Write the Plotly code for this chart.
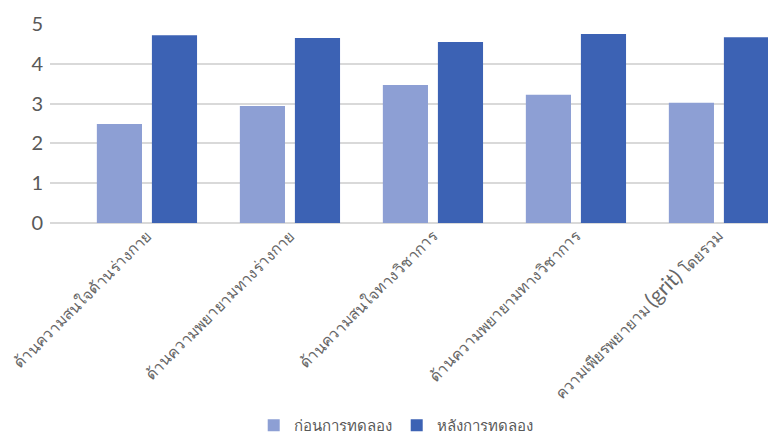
import plotly.graph_objects as go

categories = [
    "ด้านความสนใจด้านร่างกาย",
    "ด้านความพยายามทางร่างกาย",
    "ด้านความสนใจทางวิชาการ",
    "ด้านความพยายามทางวิชาการ",
    "ความเพียรพยายาม <span style=\"font-size:21px\">(grit)</span> โดยรวม",
]
before = [2.49, 2.94, 3.47, 3.22, 3.02]
after = [4.72, 4.65, 4.55, 4.75, 4.67]
series_names = ["ก่อนการทดลอง", "หลังการทดลอง"]
y_ticks = [0, 1, 2, 3, 4, 5]

fig = go.Figure()
fig.add_trace(go.Bar(x=categories, y=before, name=series_names[0],
                     marker=dict(color="#8d9fd4", line=dict(width=0))))
fig.add_trace(go.Bar(x=categories, y=after, name=series_names[1],
                     marker=dict(color="#3c62b4", line=dict(width=0))))

fig.update_layout(
    width=776, height=434,
    margin=dict(l=42, r=0, t=16, b=219),
    paper_bgcolor="white", plot_bgcolor="white",
    barmode="group", bargap=0.23, bargroupgap=0.18,
    font=dict(family="Lato, Noto Sans, sans-serif", color="#595959"),
    showlegend=True,
    legend=dict(orientation="h", x=0.471, xanchor="center", y=-1.02, yanchor="middle",
                font=dict(size=15, color="#595959"), itemwidth=30, tracegroupgap=0),
)
fig.update_xaxes(
    range=[-0.678, 4.455], tickangle=-45, tickfont=dict(size=15.5, color="#666666"),
    showgrid=False, showline=False, ticks="", automargin=False,
)
fig.update_yaxes(
    range=[0, 5], tickvals=y_ticks, tickfont=dict(size=20, color="#595959"),
    showgrid=True, gridcolor="#d9d9d9", gridwidth=1.5,
    zeroline=True, zerolinecolor="#d9d9d9", zerolinewidth=1.5,
    showline=False, ticks="", ticklabelstandoff=6, automargin=False,
)

fig.write_html("out.html")
